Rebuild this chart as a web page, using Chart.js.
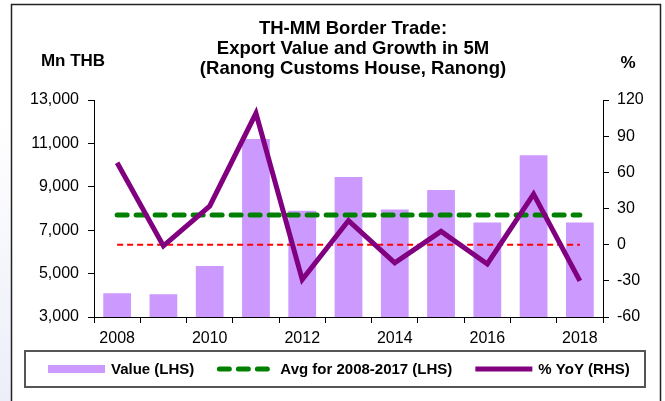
<!DOCTYPE html>
<html>
<head>
<meta charset="utf-8">
<script src="https://cdn.jsdelivr.net/npm/chart.js@4/dist/chart.umd.min.js"></script>
<style>
  html, body { margin: 0; padding: 0; background: #fff; }
  #wrap { position: relative; width: 665px; height: 401px; }
  canvas { display: block; }
</style>
</head>
<body>
<div id="wrap"><canvas id="chart" width="665" height="401"></canvas></div>
<script>
// Export value through Ranong Customs House, first five months of each year
const years = ['2008', '2009', '2010', '2011', '2012', '2013', '2014', '2015', '2016', '2017', '2018'];
const exportValue = [4100, 4050, 5350, 11200, 7900, 9450, 7950, 8850, 7350, 10450, 7350];   // Mn THB
const avgValue = [7700, 7700, 7700, 7700, 7700, 7700, 7700, 7700, 7700, 7700, 7700];      // Mn THB
const yoyGrowth = [68, -1, 32, 109, -29, 20, -15, 11, -16, 42, -30];                       // %
const zeroLine = [0, 0, 0, 0, 0, 0, 0, 0, 0, 0, 0];                                           // %

const titleLines = ['TH-MM Border Trade:', 'Export Value and Growth in 5M', '(Ranong Customs House, Ranong)'];
const leftUnit = 'Mn THB';
const rightUnit = '%';
const seriesNames = ['Value (LHS)', 'Avg for 2008-2017 (LHS)', '% YoY (RHS)'];

const FONT = '"Liberation Sans", Arial, sans-serif';
const BAR_COLOR = '#cc99ff';
const AVG_COLOR = '#008000';
const YOY_COLOR = '#800080';

// Page frame, title and axis unit captions
const framePlugin = {
  id: 'frame',
  beforeDraw(chart) {
    const ctx = chart.ctx;
    ctx.save();
    const g = ctx.createLinearGradient(0, 120, 0, 401);
    g.addColorStop(0, '#ffffff');
    g.addColorStop(1, '#eceef9');
    ctx.fillStyle = g;
    ctx.fillRect(0, 120, 11, 281);
    ctx.strokeStyle = '#222';
    ctx.lineWidth = 1.5;
    ctx.beginPath();
    ctx.moveTo(11.5, 402);
    ctx.lineTo(11.5, 4.5);
    ctx.lineTo(660.5, 4.5);
    ctx.lineTo(660.5, 402);
    ctx.stroke();

    ctx.fillStyle = '#000';
    ctx.textAlign = 'center';
    ctx.textBaseline = 'alphabetic';
    ctx.font = 'bold 18.5px ' + FONT;
    titleLines.forEach((t, i) => ctx.fillText(t, 353, 33.5 + i * 20));
    ctx.font = 'bold 17px ' + FONT;
    ctx.fillText(leftUnit, 73, 65.5);
    ctx.fillText(rightUnit, 628, 67.5);
    ctx.restore();
  }
};

// Boxed legend below the axis
const legendPlugin = {
  id: 'boxLegend',
  afterDraw(chart) {
    const ctx = chart.ctx;
    const ds = chart.data.datasets;
    ctx.save();
    ctx.strokeStyle = '#555';
    ctx.lineWidth = 2;
    ctx.strokeRect(25, 351, 620, 36);

    const cy = 369;
    const sw = 57;
    ctx.font = 'bold 15px ' + FONT;
    ctx.textBaseline = 'middle';
    ctx.textAlign = 'left';
    let x = 48;
    [0, 2, 3].forEach(k => {
      const d = ds[k];
      if (d.type === 'bar') {
        ctx.fillStyle = d.backgroundColor;
        ctx.fillRect(x, cy - 4, sw, 8);
      } else {
        ctx.strokeStyle = d.borderColor;
        ctx.lineWidth = d.borderWidth;
        ctx.lineCap = d.borderCapStyle || 'butt';
        ctx.setLineDash(d.borderDash || []);
        ctx.beginPath();
        ctx.moveTo(x + (d.borderCapStyle === 'round' ? 2 : 0), cy);
        ctx.lineTo(x + sw, cy);
        ctx.stroke();
        ctx.setLineDash([]);
      }
      ctx.fillStyle = '#000';
      ctx.fillText(d.label, x + sw + 6, cy + 1);
      x += sw + 6 + ctx.measureText(d.label).width + 23;
    });
    ctx.restore();
  }
};

const tickFont = { family: FONT, size: 16 };

new Chart(document.getElementById('chart'), {
  data: {
    labels: years,
    datasets: [
      {
        type: 'bar',
        label: seriesNames[0],
        data: exportValue,
        yAxisID: 'y',
        backgroundColor: BAR_COLOR,
        barPercentage: 1,
        categoryPercentage: 0.6,
        order: 4
      },
      {
        type: 'line',
        label: 'zero',
        data: zeroLine,
        yAxisID: 'y1',
        borderColor: '#ff0000',
        borderWidth: 2,
        borderDash: [6, 4],
        pointRadius: 0,
        tension: 0,
        order: 3
      },
      {
        type: 'line',
        label: seriesNames[1],
        data: avgValue,
        yAxisID: 'y',
        borderColor: AVG_COLOR,
        borderWidth: 5,
        borderDash: [10, 9],
        borderCapStyle: 'round',
        pointRadius: 0,
        tension: 0,
        order: 2
      },
      {
        type: 'line',
        label: seriesNames[2],
        data: yoyGrowth,
        yAxisID: 'y1',
        borderColor: YOY_COLOR,
        borderWidth: 5,
        borderJoinStyle: 'miter',
        pointRadius: 0,
        tension: 0,
        order: 1
      }
    ]
  },
  options: {
    responsive: false,
    animation: false,
    devicePixelRatio: 1,
    layout: { padding: { top: 100, bottom: 54, left: 0, right: 0 } },
    plugins: {
      legend: { display: false },
      title: { display: false },
      tooltip: { enabled: false }
    },
    scales: {
      x: {
        type: 'category',
        offset: true,
        grid: { offset: true, drawOnChartArea: false, drawTicks: true, tickLength: 6, color: '#000' },
        border: { color: '#000', width: 1 },
        ticks: {
          autoSkip: false, maxRotation: 0, minRotation: 0, padding: 6, color: '#000', font: tickFont,
          callback: (v, i) => (i % 2 === 0 ? years[i] : '')
        },
        afterFit: s => { s.height = 30; }
      },
      y: {
        position: 'left',
        min: 3000, max: 13000,
        grid: { drawOnChartArea: false, tickLength: 6, color: '#000' },
        border: { color: '#000', width: 1 },
        ticks: { stepSize: 2000, padding: 9, color: '#000', font: tickFont, callback: v => v.toLocaleString('en-US') },
        afterFit: s => { s.width = 94; }
      },
      y1: {
        position: 'right',
        min: -60, max: 120,
        grid: { drawOnChartArea: false, tickLength: 6, color: '#000' },
        border: { color: '#000', width: 1 },
        ticks: { stepSize: 30, padding: 8, color: '#000', font: tickFont },
        afterFit: s => { s.width = 62; }
      }
    }
  },
  plugins: [framePlugin, legendPlugin]
});
</script>
</body>
</html>
